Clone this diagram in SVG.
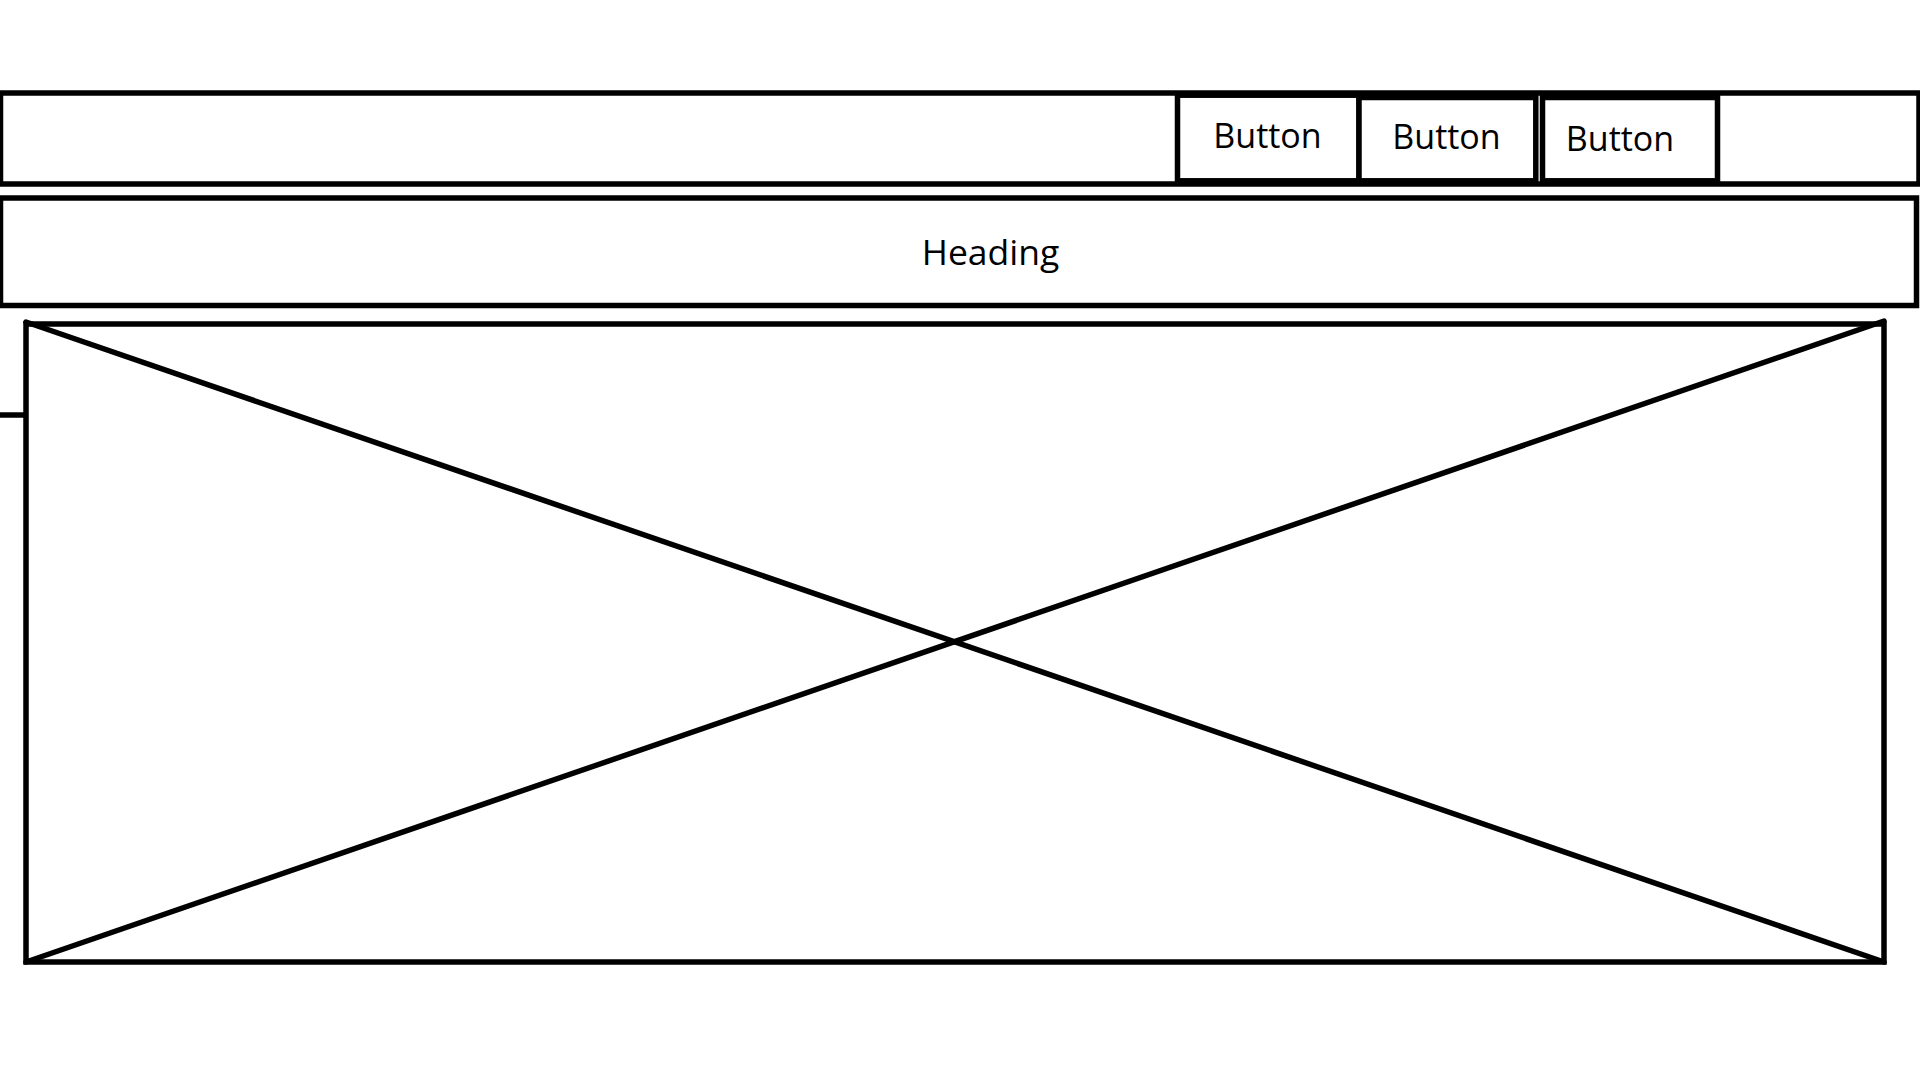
<svg xmlns="http://www.w3.org/2000/svg" width="1920" height="1080" viewBox="0 0 1920 1080">
  <style>
    .box { fill: #ffffff; stroke: #000000; stroke-width: 5.5; }
    .ln { fill: none; stroke: #000000; stroke-width: 5.5; stroke-linecap: round; }
    .lbl { font-family: "Open Sans", "Noto Sans", "Liberation Sans", sans-serif; fill: #000000; text-anchor: middle; }
    .btn { font-size: 34px; }
    .hd { font-size: 35.5px; }
  </style>
  <rect x="0" y="0" width="1920" height="1080" fill="#ffffff"/>
  <g id="topbar">
    <rect class="box" x="0.5" y="93" width="1918.5" height="91"/>
  </g>
  <g id="button1">
    <rect class="box" x="1177.5" y="95.2" width="181.5" height="85.6"/>
    <text class="lbl btn" x="1267.5" y="148.3">Button</text>
  </g>
  <g id="button2">
    <rect class="box" x="1359" y="97.5" width="176.8" height="83.3"/>
    <text class="lbl btn" x="1446.5" y="148.8">Button</text>
  </g>
  <g id="button3">
    <rect class="box" x="1542.5" y="97.5" width="175" height="83.3"/>
    <text class="lbl btn" x="1620" y="150.5">Button</text>
  </g>
  <g id="heading">
    <rect class="box" x="0.5" y="198" width="1916" height="107.5"/>
    <text class="lbl hd" x="990.5" y="265">Heading</text>
  </g>
  <g id="image-placeholder">
    <rect class="box" x="26" y="324" width="1858" height="638"/>
    <line class="ln" x1="26" y1="322" x2="1884" y2="962"/>
    <line class="ln" x1="26" y1="962" x2="1884" y2="321"/>
  </g>
  <g id="connectors">
    <line x1="0" y1="415" x2="24" y2="415" stroke="#000000" stroke-width="5.5"/>
  </g>
</svg>
